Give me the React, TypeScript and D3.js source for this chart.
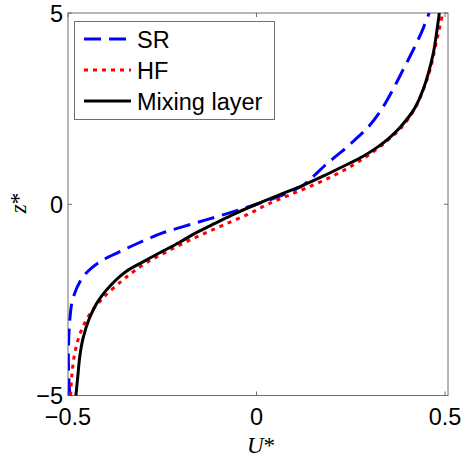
import React from "react";
import * as d3 from "d3";

const zLevels = [-5, -4.5, -4, -3.5, -3, -2.5, -2, -1.75, -1.5, -1.25, -1, -0.75, -0.5, -0.25, 0, 0.25, 0.5, 0.75, 1, 1.25, 1.5, 1.75, 2, 2.5, 3, 3.5, 4, 4.5, 5];

const srValues = [-0.495, -0.498, -0.499, -0.498, -0.495, -0.488, -0.467, -0.447, -0.415, -0.365, -0.31, -0.249, -0.165, -0.08, 0.0, 0.072, 0.124, 0.153, 0.18, 0.21, 0.241, 0.268, 0.295, 0.333, 0.362, 0.388, 0.414, 0.438, 0.458];

const hfValues = [-0.493, -0.49, -0.484, -0.472, -0.45, -0.412, -0.357, -0.325, -0.287, -0.24, -0.19, -0.135, -0.078, -0.02, 0.03, 0.09, 0.15, 0.205, 0.252, 0.292, 0.327, 0.357, 0.384, 0.42, 0.443, 0.46, 0.472, 0.483, 0.494];

const mixValues = [-0.479, -0.474, -0.469, -0.46, -0.444, -0.418, -0.375, -0.345, -0.3, -0.253, -0.205, -0.161, -0.11, -0.058, 0.0, 0.062, 0.125, 0.18, 0.232, 0.282, 0.322, 0.354, 0.38, 0.419, 0.442, 0.458, 0.47, 0.478, 0.485];

const xTicks = [-0.5, 0, 0.5];
const yTicks = [-5, 0, 5];
const xTickLabels = ["\u22120.5", "0", "0.5"];
const yTickLabels = ["\u22125", "0", "5"];

const seriesNames = ["SR", "HF", "Mixing layer"];

export default function App() {
  const W = 468, H = 458;
  const left = 68, right = 448, top = 13, bottom = 395.5;
  const x = d3.scaleLinear().domain([-0.5, 0.508]).range([left, right]);
  const y = d3.scaleLinear().domain([-5, 5]).range([bottom, top]);

  const line = d3
    .line<[number, number]>()
    .x((d) => x(d[0]))
    .y((d) => y(d[1]))
    .curve(d3.curveCatmullRom.alpha(0.5));

  const mk = (vals: number[]) => vals.map((v, i) => [v, zLevels[i]] as [number, number]);

  const series = [
    { name: seriesNames[0], data: mk(srValues), color: "#0000ff", dash: "17,8" },
    { name: seriesNames[1], data: mk(hfValues), color: "#ff0000", dash: "4,5" },
    { name: seriesNames[2], data: mk(mixValues), color: "#000000", dash: undefined },
  ];

  const axisColor = "#6e6e6e";
  const tickLen = 4;
  const font = "'Liberation Sans', Arial, Helvetica, sans-serif";
  const serif = "'Liberation Serif', 'Times New Roman', serif";
  const fs = 23.5;

  const legendRows = [39, 70, 101];

  return (
    <svg width={W} height={H} style={{ position: "absolute", left: 0, top: 0, background: "#fff" }}>
      <rect x={0} y={0} width={W} height={H} fill="#fff" />
      <defs>
        <clipPath id="plotclip">
          <rect x={left} y={top - 2} width={right - left} height={bottom - top + 4} />
        </clipPath>
      </defs>
      <rect x={left} y={top} width={right - left} height={bottom - top} fill="none" stroke={axisColor} strokeWidth={1} />
      {xTicks.map((t) => (
        <g key={"xt" + t}>
          <line x1={x(t)} x2={x(t)} y1={bottom} y2={bottom - tickLen} stroke={axisColor} />
          <line x1={x(t)} x2={x(t)} y1={top} y2={top + tickLen} stroke={axisColor} />
        </g>
      ))}
      {yTicks.map((t) => (
        <g key={"yt" + t}>
          <line x1={left} x2={left + tickLen} y1={y(t)} y2={y(t)} stroke={axisColor} />
          <line x1={right} x2={right - tickLen} y1={y(t)} y2={y(t)} stroke={axisColor} />
        </g>
      ))}
      {xTicks.map((t, i) => (
        <text key={"xl" + t} x={x(t)} y={425} textAnchor="middle" fontFamily={font} fontSize={fs} fill="#000">
          {xTickLabels[i]}
        </text>
      ))}
      {yTicks.map((t, i) => (
        <text key={"yl" + t} x={63} y={y(t) + 8.5} textAnchor="end" fontFamily={font} fontSize={fs} fill="#000">
          {yTickLabels[i]}
        </text>
      ))}
      <text x={261} y={453} textAnchor="middle" fontFamily={serif} fontSize={23} fill="#000">
        <tspan fontStyle="italic">U</tspan>
        <tspan>*</tspan>
      </text>
      <text transform="translate(26,203) rotate(-90)" textAnchor="middle" fontFamily={serif} fontSize={23} fill="#000">
        <tspan fontStyle="italic">z</tspan>
        <tspan>*</tspan>
      </text>
      <g clipPath="url(#plotclip)">
        {series.map((s) => (
          <path
            key={s.name}
            d={line(s.data) || ""}
            fill="none"
            stroke={s.color}
            strokeWidth={3}
            strokeDasharray={s.dash}
          />
        ))}
      </g>
      <rect x={74.5} y={21.5} width={200} height={98} fill="#fff" stroke={axisColor} strokeWidth={1} />
      {series.map((s, i) => (
        <g key={"lg" + s.name}>
          <line x1={84} x2={131} y1={legendRows[i]} y2={legendRows[i]} stroke={s.color} strokeWidth={3} strokeDasharray={s.dash} />
          <text x={137} y={legendRows[i] + 8.5} fontFamily={font} fontSize={fs} fill="#000">
            {s.name}
          </text>
        </g>
      ))}
    </svg>
  );
}
